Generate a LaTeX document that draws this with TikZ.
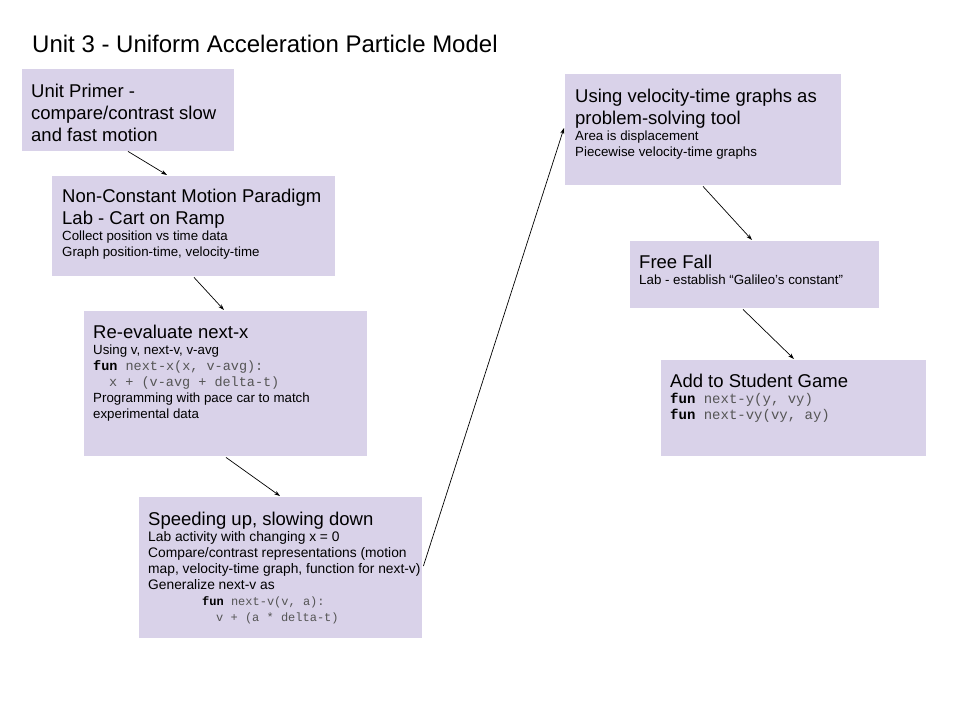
\documentclass[tikz,border=0pt]{standalone}
\usepackage{fontspec}
\setmainfont{Liberation Sans}
\setmonofont{Liberation Mono}
\usepackage{xcolor}
\usepackage{tikz}
\usetikzlibrary{arrows.meta}

\definecolor{unitfill}{HTML}{D9D2E9}
\definecolor{codegray}{HTML}{555555}
\newcommand{\hd}[1]{{\fontsize{18.5}{22}\selectfont #1\par}}
\newcommand{\sm}[2][13.3]{{\fontsize{#1}{16}\selectfont #2\par}}
\newcommand{\cd}[2][13.5]{{\fontsize{#1}{16}\selectfont\ttfamily\color{codegray}#2\par}}
\newcommand{\fun}{\textbf{\color{black}fun}}
\newcommand{\boxtext}[1]{\parbox[t]{320pt}{\raggedright #1}}

\begin{document}
\begin{tikzpicture}[x=1pt, y=-1pt, >={Stealth[length=6pt,width=4pt]}]
\tikzstyle{box}=[fill=unitfill,rectangle,anchor=north west,inner sep=0pt]
\tikzstyle{txt}=[anchor=base west,inner sep=0pt]
\tikzstyle{link}=[->,line width=0.7pt]
\useasboundingbox (0,0) rectangle (960,720);

\node[txt,font=\fontsize{24}{28}\selectfont] (title) at (32,52) {Unit 3 - Uniform Acceleration Particle Model};

% boxes
\node[box,minimum width=212,minimum height=82] (primer) at (22,69) {};
\node[box,minimum width=283,minimum height=100] (ramp) at (52,176) {};
\node[box,minimum width=283,minimum height=145] (nextx) at (84,311) {};
\node[box,minimum width=283,minimum height=141] (speed) at (139,497) {};
\node[box,minimum width=276,minimum height=111] (vtgraph) at (565,74) {};
\node[box,minimum width=249,minimum height=67] (freefall) at (630,241) {};
\node[box,minimum width=265,minimum height=96] (game) at (661,360) {};

% texts
\node[txt] (primertext) at (31,97) {\boxtext{\hd{Unit Primer -}\hd{compare/contrast slow}\hd{and fast motion}}};
\node[txt] (ramptext) at (62,202) {\boxtext{\hd{Non-Constant Motion Paradigm}\hd{Lab - Cart on Ramp}
  \sm{Collect position vs time data}\sm{Graph position-time, velocity-time}}};
\node[txt] (nextxtext) at (93,338) {\boxtext{\hd{Re-evaluate next-x}\sm{Using v, next-v, v-avg}
  \cd{\fun\ next-x(x, v-avg):}\cd{\hspace*{16pt}x + (v-avg + delta-t)}
  \sm{Programming with pace car to match}\sm{experimental data}}};
\node[txt] (speedtext) at (148,525) {\boxtext{\hd{Speeding up, slowing down}\sm[13.8]{Lab activity with changing x = 0}
  \sm[13.8]{Compare/contrast representations (motion}\sm[13.8]{map, velocity-time graph, function for next-v)}
  \sm[13.8]{Generalize next-v as}\cd[12]{\hspace*{54pt}\fun\ next-v(v, a):}\cd[12]{\hspace*{68pt}v + (a * delta-t)}}};
\node[txt] (vtgraphtext) at (575,102) {\boxtext{\hd{Using velocity-time graphs as}\hd{problem-solving tool}
  \sm{Area is displacement}\sm{Piecewise velocity-time graphs}}};
\node[txt] (freefalltext) at (639,268) {\boxtext{\hd{Free Fall}\sm{Lab - establish “Galileo’s constant”}}};
\node[txt] (gametext) at (670,387) {\boxtext{\hd{Add to Student Game}\cd[14]{\fun\ next-y(y, vy)}\cd[14]{\fun\ next-vy(vy, ay)}}};

% connectors
\draw[link] ([xshift=106pt]primer.south west) -- ([xshift=115pt,yshift=1pt]ramp.north west);
\draw[link] ([xshift=142pt,yshift=-1pt]ramp.south west) -- ([xshift=140pt,yshift=1pt]nextx.north west);
\draw[link] ([xshift=142pt,yshift=-1pt]nextx.south west) -- ([xshift=141pt,yshift=1pt]speed.north west);
\draw[link] ([xshift=1pt,yshift=-69pt]speed.north east) -- ([xshift=-1pt,yshift=-54pt]vtgraph.north west);
\draw[link] ([xshift=138pt,yshift=-1pt]vtgraph.south west) -- ([xshift=122pt,yshift=1pt]freefall.north west);
\draw[link] ([xshift=113pt,yshift=-1pt]freefall.south west) -- ([xshift=133pt,yshift=1pt]game.north west);
\end{tikzpicture}
\end{document}
